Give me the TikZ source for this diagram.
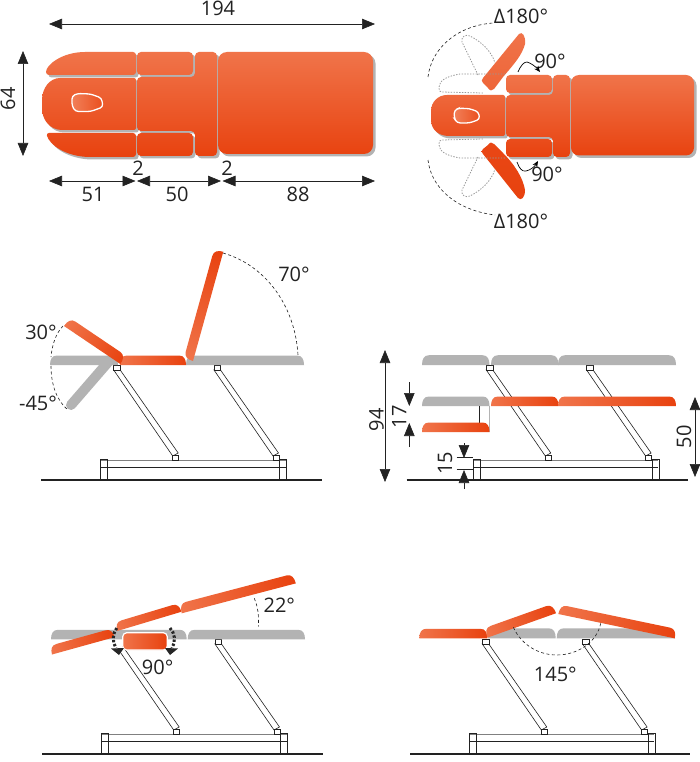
\documentclass[tikz,border=0pt]{standalone}
\usepackage{fontspec}
\setmainfont{Open Sans}
\usetikzlibrary{arrows.meta}
\definecolor{oL}{HTML}{F0744A}
\definecolor{oR}{HTML}{E8420F}
\definecolor{gr}{HTML}{B3B3B3}
\definecolor{ink}{HTML}{222222}
\tikzset{
  tip/.tip={Triangle[length=13pt,width=10.5pt]},
  dimline/.style={draw=ink,line width=.6pt},
  dimboth/.style={dimline,{tip}-{tip}},
  lbl/.style={text=ink,font=\fontsize{20}{22}\selectfont,inner sep=0pt},
  arcline/.style={draw=ink,line width=.6pt,dash pattern=on 3pt off 2.5pt},
  ghost/.style={draw=gr!85!black,line width=.8pt,dash pattern=on 1.4pt off 1.4pt},
  frameline/.style={draw=ink,line width=.6pt},
  groundline/.style={draw=ink,line width=1.4pt},
  grayfill/.style={fill=gr},
  orangefill/.style={left color=oL,right color=oR},
  turnarrow/.style={draw=black,line width=.7pt,-{Stealth[length=6pt,width=5pt]}},
  swing/.style={draw=black!85,line width=3pt,dash pattern=on 2.4pt off 1.8pt},
  swinghead/.style={fill=black!85},
}
% pad with a flat base: style, base-left x, y, rotation, length, height
\newcommand\padat[6]{\begin{scope}[transform canvas={shift={(#2,#3)},rotate=#4}]
  \path[#1] (0,0) .. controls (0,{-.6*#6}) and (2,-#6) .. (7,-#6) -- ({#5-7},-#6)
     .. controls ({#5-2},-#6) and (#5,{-.6*#6}) .. (#5,0) -- cycle;
\end{scope}}
% base frame with two legs: left foot x, ground y, ground from, ground to
\newcommand\benchframe[4]{\begin{scope}[shift={(#1,#2)}]
  \draw[frameline] (0,-13) -- (185,-13);
  \draw[draw=gray,line width=.9pt] (0,-20) -- (185,-20);
  \draw[frameline] (0,-20.5) rectangle (7,0);
  \draw[frameline] (178.5,-20.5) rectangle (185.5,0);
  \foreach \dx in {0,100.3}{
    \draw[frameline,fill=white] ({13+\dx},-110) -- ({72+\dx},-24) -- ({77.5+\dx},-27) -- ({19.5+\dx},-110) -- cycle;
    \draw[frameline,fill=white] ({13+\dx},-115) rectangle ({19.5+\dx},-109.5);
    \draw[frameline,fill=white] ({72+\dx},-24.5) rectangle ({78+\dx},-20);
  }
  \end{scope}
  \draw[groundline] (#3,#2) -- (#4,#2);}
% opening in the head section
\newcommand\holeat[3]{\begin{scope}[shift={(#1,#2)},scale=#3]
  \path[draw=white,line width=1.3pt,left color=oL!92!white,right color=oR!75!oL,rounded corners=3pt]
    (-15.5,-7) -- (-10,-9.5) -- (3,-9) -- (14,-5) -- (15.5,4) -- (3,8.5) -- (-12,8.5) -- (-15.5,3) -- cycle;
\end{scope}}
\def\planA{
  (218,52) [rounded corners=9pt] rectangle (373,154)
  [rounded corners=4pt] (195,52) -- (217,52) -- (217,156) -- (195,156) -- (195,131) -- (137,131) -- (137,77) -- (195,77) -- cycle
  (137,52) rectangle (193,75)
  (137,133) rectangle (193,156)
  [rounded corners=2pt] (136,78) -- (62,78) [sharp corners] .. controls (50,78) and (42,88) .. (42,100) -- (42,108) .. controls (42,120) and (50,130) .. (62,130) [rounded corners=2pt] -- (136,130) -- cycle
  (46,75) [sharp corners] .. controls (46,65) and (62,52) .. (85,52) [rounded corners=3pt] -- (136,52) -- (136,75) -- cycle
  (46,133) [sharp corners] .. controls (50,145) and (65,156) .. (88,157) [rounded corners=3pt] -- (136,157) -- (136,133) -- cycle
}
\def\planB{
  (571,75) [rounded corners=8pt] rectangle (694,155.5)
  [rounded corners=4pt] (553,75) -- (570,75) -- (570,157) -- (553,157) -- (553,137) -- (506,137) -- (506,95) -- (553,95) -- cycle
  (506,75) rectangle (552,93)
  (506,139) rectangle (552,157)
  [rounded corners=2pt] (505,95) -- (449,95) [sharp corners] .. controls (438,95) and (431,102) .. (431,111) -- (431,120) .. controls (431,129) and (438,136) .. (449,136) [rounded corners=2pt] -- (505,136) -- cycle
}
\begin{document}
\begin{tikzpicture}[x=1pt,y=-1pt]
\useasboundingbox (0,0) rectangle (700,762);
\fill[white] (0,0) rectangle (700,762);

% ---------- plan view, flat
\begin{scope}[shift={(2.5,2.5)}]\fill[gr] \planA;\end{scope}
\begin{scope}\clip \planA;
  \shade[top color=oL,bottom color=oR] (40,52) rectangle (376,157);
\end{scope}
\holeat{87.5}{103}{1}
\coordinate (wl) at (49,24); \coordinate (wr) at (375,24);
\draw[dimboth] (wl) -- (wr);
\node[lbl] (t194) at (218,8) {194};
\coordinate (ht) at (23,51); \coordinate (hb) at (23,156);
\draw[dimboth] (ht) -- (hb);
\node[lbl,rotate=90] (t64) at (8,99) {64};
\coordinate (a0) at (49,181); \coordinate (a1) at (135.5,181); \coordinate (a2) at (137,181);
\coordinate (a3) at (221,181); \coordinate (a4) at (222.5,181); \coordinate (a5) at (375,181);
\draw[dimboth] (a0) -- (a1); \draw[dimboth] (a2) -- (a3); \draw[dimboth] (a4) -- (a5);
\node[lbl] (t51) at (93,194) {51};
\node[lbl] (t50) at (177,194) {50};
\node[lbl] (t88) at (298,194) {88};
\node[lbl] (t2a) at (138,168) {2};
\node[lbl] (t2b) at (227,168) {2};

% ---------- plan view, wings swung
\begin{scope}[shift={(2.5,2.5)}]\fill[gr] \planB;\end{scope}
\begin{scope}\clip \planB;
  \shade[top color=oL,bottom color=oR] (430,75) rectangle (697,157);
\end{scope}
\holeat{467}{116}{.82}
\shade[top color=oL,bottom color=oL!70!oR]
  (483,78) -- (519,34) .. controls (522,31) and (526,36) .. (525,44) .. controls (522,55) and (515,63) .. (503,77) -- (494,89) .. controls (492,91) and (490,91) .. (488,88) -- (483,83) .. controls (481.5,81) and (481.5,80) .. cycle;
\shade[top color=oR!90!oL,bottom color=oR]
  (483,154) -- (518,198) .. controls (521,201) and (525,198) .. (525,190) .. controls (523,178) and (515,165) .. (503,153) -- (494,144) .. controls (492,142) and (490,142) .. (488,145) -- (483,149) .. controls (481,151) and (481,152) .. cycle;
\draw[ghost] (505,74) -- (460,74) .. controls (448,76) and (439,80) .. (439,87) .. controls (439,91) and (440,92) .. (442,92) -- (483,93);
\draw[ghost] (478,75) -- (462,42) .. controls (461,37) and (465,34) .. (470,36) .. controls (482,42) and (492,52) .. (495,63);
\draw[ghost] (505,158) -- (460,158) .. controls (448,156) and (439,152) .. (439,145) .. controls (439,141) and (440,140) .. (442,140) -- (483,139);
\draw[ghost] (478,157) -- (462,190) .. controls (461,195) and (465,198) .. (470,196) .. controls (482,190) and (492,180) .. (495,169);
\draw[arcline] (428,77) .. controls (431,50) and (455,26) .. (493,23);
\draw[arcline] (428,160) .. controls (431,187) and (455,210) .. (495,215);
\node[lbl] (t180a) at (521,16) {Δ180°};
\node[lbl] (t180b) at (521,221) {Δ180°};
\node[lbl] (t90a) at (550,61) {90°};
\node[lbl] (t90b) at (547,174) {90°};
\draw[turnarrow] (518,72) .. controls (521,65) and (524,62) .. (527,62) .. controls (531,63) and (536,67) .. (540,72);
\draw[turnarrow] (517,162) .. controls (519,168) and (522,172) .. (526,171) .. controls (531,170) and (535,166) .. (538,161);

% ---------- side view: sections raised and lowered
\benchframe{100.7}{480}{41}{322}
\padat{grayfill}{50}{365}{0}{68}{9.5}
\padat{grayfill}{186}{365}{0}{118}{9.5}
\draw[gr,line width=10pt,line cap=round] (110,360) -- (71,405);
\padat{orangefill}{120}{365}{0}{66}{9.5}
\padat{orangefill}{64}{326}{-34}{68}{10}
\padat{orangefill}{193}{361}{74.5}{113.4}{9.5}
\draw[arcline] (63,326) .. controls (56,333) and (52,345) .. (51,357);
\draw[arcline] (51,366) .. controls (51,385) and (57,401) .. (68,410);
\draw[arcline] (223,253) .. controls (265,265) and (295,305) .. (298,355);
\node[lbl] (t30) at (41,332) {30°};
\node[lbl] (t70) at (294,274) {70°};
\node[lbl] (t45) at (38,403) {-45°};

% ---------- side view: height range
\benchframe{473.3}{480}{406.5}{687.5}
\padat{grayfill}{422}{365}{0}{67.5}{9.8}
\padat{grayfill}{491}{365}{0}{67.5}{9.8}
\padat{grayfill}{558}{365}{0}{118}{9.8}
\padat{grayfill}{422}{406}{0}{67.5}{9.5}
\padat{orangefill}{491}{406}{0}{67.5}{9.5}
\padat{orangefill}{558}{406}{0}{118}{9.5}
\draw[frameline] (479.5,406) -- (479.5,423);
\draw[draw=gr,line width=.8pt] (489,406) -- (489,432);
\padat{orangefill}{422}{432}{0}{67.5}{9.5}
\coordinate (h94a) at (385,350); \coordinate (h94b) at (385,482);
\draw[dimboth] (h94a) -- (h94b);
\node[lbl,rotate=90] (t94) at (376.5,420) {94};
\coordinate (h17a) at (409.3,382); \coordinate (h17b) at (409.3,406);
\coordinate (h17c) at (409.3,447); \coordinate (h17d) at (409.3,423);
\draw[dimline,-{tip}] (h17a) -- (h17b);
\draw[dimline,-{tip}] (h17c) -- (h17d);
\node[lbl,rotate=90] (t17) at (399.3,416.7) {17};
\coordinate (h50a) at (695,397); \coordinate (h50b) at (695,477);
\draw[dimboth] (h50a) -- (h50b);
\node[lbl,rotate=90] (t50b) at (684,436.7) {50};
\coordinate (h15a) at (464,443); \coordinate (h15b) at (464,458);
\coordinate (h15c) at (464,489); \coordinate (h15d) at (464,470);
\draw[dimline,-{tip}] (h15a) -- (h15b);
\draw[dimline,-{tip}] (h15c) -- (h15d);
\coordinate (k1a) at (456.7,457.7); \coordinate (k1b) at (473,457.7);
\coordinate (k2a) at (456.7,469); \coordinate (k2b) at (473,469);
\draw[dimline] (k1a) -- (k1b);
\draw[dimline] (k2a) -- (k2b);
\node[lbl,rotate=90] (t15) at (445,463) {15};

% ---------- side view: whole top tilted
\benchframe{101.7}{754}{42}{323}
\fill[white] (112,638) rectangle (122.2,650.5);
\padat{grayfill}{51}{639.3}{0}{135.7}{9.5}
\path[orangefill,draw=white,line width=1.2pt,rounded corners=4pt] (122.7,632.7) rectangle (167.3,650);
\padat{orangefill}{52}{654.5}{15.5}{65}{9}
\padat{grayfill}{187.7}{639.3}{0}{117.3}{9.5}
\padat{orangefill}{117.3}{631}{16.7}{67}{9}
\padat{orangefill}{181.7}{613.3}{14.7}{118}{10}
\draw[swing] (116.7,628) .. controls (112.5,634) and (112,642) .. (116,648);
\draw[swing] (170,628) .. controls (175,633) and (176,642) .. (172,648);
\fill[swinghead] (111,648.5) -- (124,648) -- (119,655) -- cycle;
\fill[swinghead] (178,648.5) -- (165,648) -- (170,655) -- cycle;
\draw[arcline] (254.3,598.3) .. controls (258,607) and (259,616) .. (258.3,626.7);
\node[lbl] (t22) at (279.3,605.7) {22°};
\node[lbl] (t90c) at (157.7,667.7) {90°};

% ---------- side view: peak
\benchframe{469.3}{754}{410}{690}
\padat{orangefill}{419.3}{638.3}{0}{68}{9.5}
\padat{grayfill}{488}{638.3}{0}{67.7}{10}
\padat{grayfill}{556.7}{638.3}{0}{118.3}{10}
\padat{orangefill}{487.3}{637.7}{19.6}{73}{10}
\padat{orangefill}{558.3}{614}{-11.8}{119}{9.5}
\draw[arcline] (513.3,627.3) .. controls (522,646) and (540,655) .. (556.7,655) .. controls (578,655) and (597,642) .. (600.7,623.3);
\node[lbl] (t145) at (555.3,674) {145°};
\end{tikzpicture}
\end{document}
